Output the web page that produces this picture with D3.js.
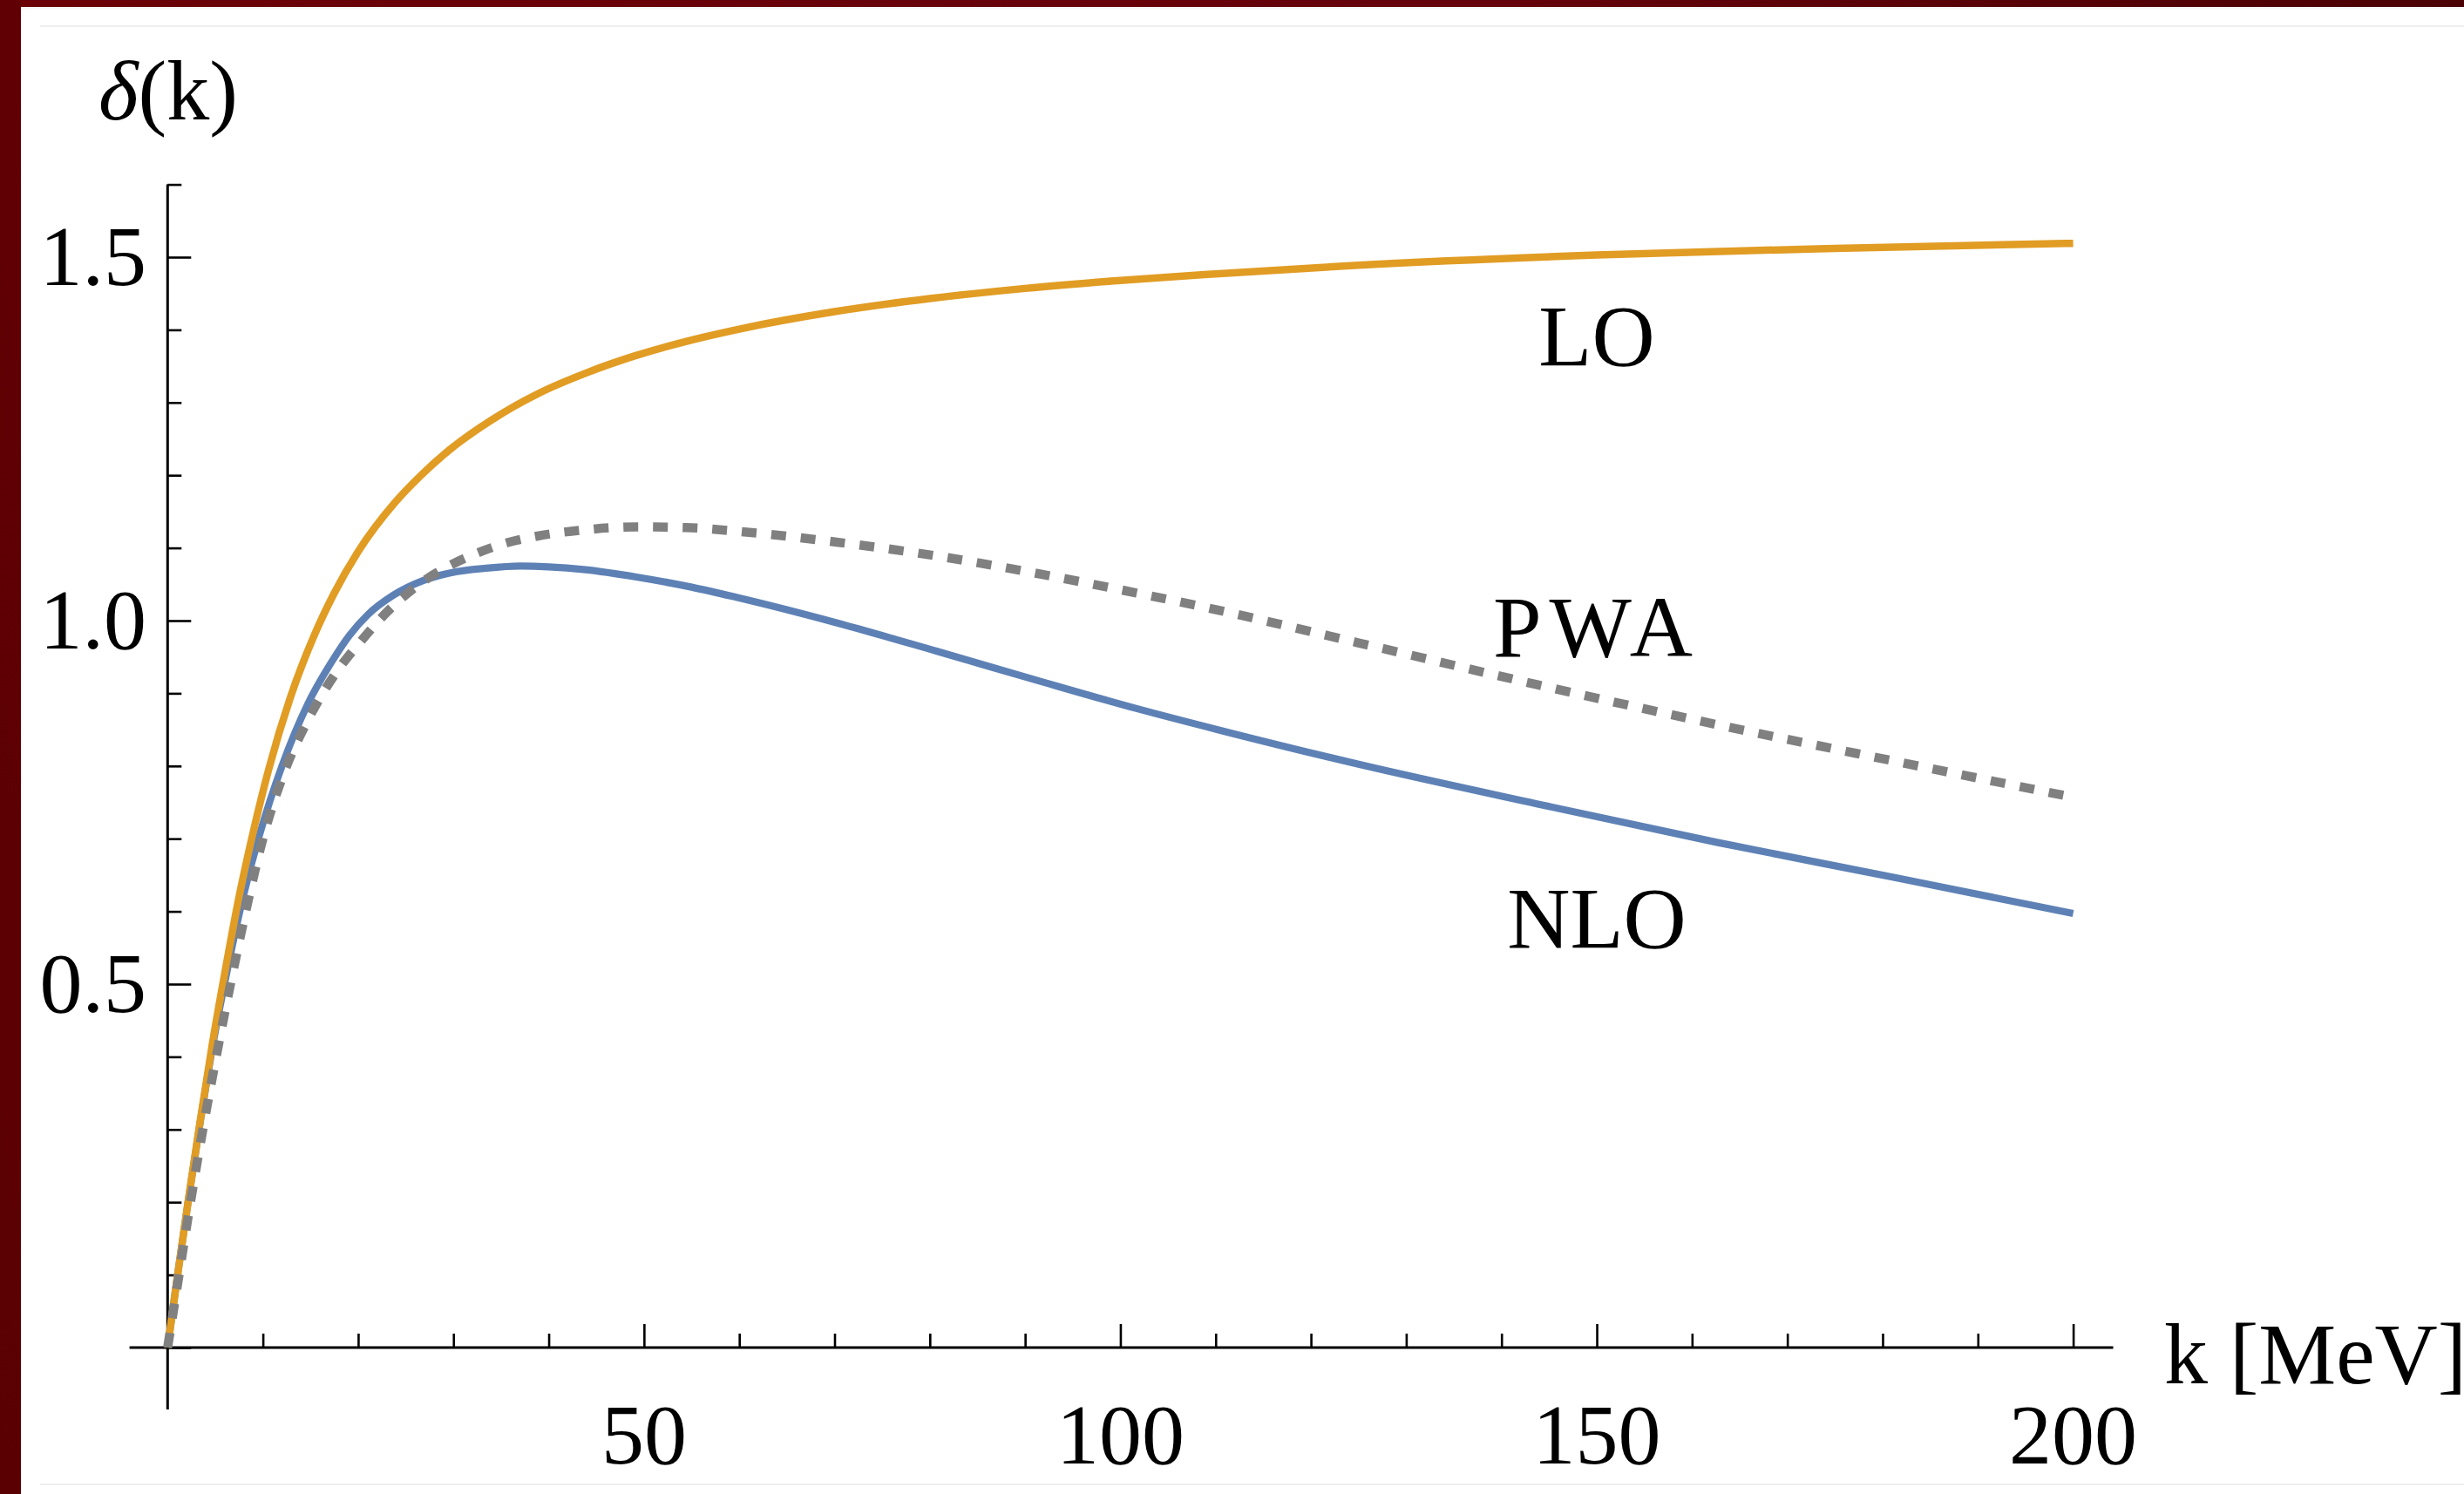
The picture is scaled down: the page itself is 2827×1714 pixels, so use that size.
<!DOCTYPE html>
<html>
<head>
<meta charset="utf-8">
<script src="https://cdn.jsdelivr.net/npm/d3@7"></script>
<style>
  html, body { margin: 0; padding: 0; background: #ffffff; }
  body { width: 2827px; height: 1714px; position: relative; overflow: hidden; }
  #topbar { position: absolute; left: 0; top: 0; width: 2827px; height: 8px;
            background: linear-gradient(to right, #6a0006, #64000a 60%, #4a0003);
            box-shadow: 0 2px 3px rgba(0,0,0,0.06); }
  #leftbar { position: absolute; left: 0; top: 0; width: 24px; height: 1714px;
             background: linear-gradient(to bottom, #610004, #5a0003); }
  #chart { position: absolute; left: 0; top: 0; }
</style>
</head>
<body>
<div id="topbar"></div>
<div id="leftbar"></div>
<svg id="chart" width="2827" height="1714"></svg>
<script>
// Phase shift delta(k) of the three curves, sampled against momentum k [MeV]
const loK     = [0, 1, 2.2, 3.4, 4.7, 6.0, 7.5, 9.0, 10.6, 12.9, 15.4, 17.5, 20.0, 23.9, 26.6, 29.5, 34.0, 39.0, 44.0, 49.0, 55.0, 60.0, 70.0, 80.0, 90.0, 100.0, 110.0, 125.0, 150.0, 175.0, 200.0];
const loDelta = [0, 0.095, 0.205, 0.31, 0.418, 0.515, 0.62, 0.71, 0.795, 0.895, 0.98, 1.038, 1.095, 1.163, 1.2, 1.234, 1.276, 1.313, 1.341, 1.364, 1.386, 1.401, 1.425, 1.443, 1.457, 1.468, 1.477, 1.489, 1.503, 1.512, 1.519];

const nloK     = [0, 1, 2.2, 3.4, 4.8, 6.2, 7.7, 9.6, 12.0, 14.7, 17.3, 19.1, 21.0, 23.7, 26.8, 29.8, 33.4, 37.0, 40.0, 43.9, 49.2, 55.0, 59.7, 70.2, 80.7, 91.2, 101.7, 110.5, 124.8, 143.7, 162.6, 181.5, 200.0];
const nloDelta = [0, 0.096, 0.205, 0.308, 0.42, 0.515, 0.607, 0.703, 0.8, 0.885, 0.945, 0.98, 1.008, 1.035, 1.055, 1.066, 1.072, 1.075, 1.074, 1.07, 1.06, 1.046, 1.032, 0.997, 0.958, 0.918, 0.879, 0.849, 0.803, 0.748, 0.695, 0.646, 0.597];

const pwaK     = [0, 1.2, 2.4, 3.7, 5.1, 6.6, 8.2, 10.0, 12.2, 14.6, 17.5, 20.5, 23.5, 26.6, 29.5, 32.7, 35.6, 38.7, 43.9, 49.2, 54.4, 59.7, 70.2, 80.7, 91.2, 101.7, 109.0, 124.8, 143.7, 162.6, 181.5, 200.0];
const pwaDelta = [0, 0.1, 0.2, 0.3, 0.4, 0.5, 0.6, 0.7, 0.79, 0.86, 0.925, 0.975, 1.018, 1.052, 1.075, 1.094, 1.107, 1.116, 1.125, 1.129, 1.128, 1.123, 1.108, 1.089, 1.065, 1.038, 1.018, 0.97, 0.912, 0.857, 0.806, 0.757];

// Axis ticks and labels
const xMajorTicks = [50, 100, 150, 200];
const xMinorTicks = [10, 20, 30, 40, 60, 70, 80, 90, 110, 120, 130, 140, 160, 170, 180, 190];
const yMajorTicks = [0, 0.5, 1.0, 1.5];
const yMinorTicks = [0.1, 0.2, 0.3, 0.4, 0.6, 0.7, 0.8, 0.9, 1.1, 1.2, 1.3, 1.4, 1.6];
const yTickLabels = ["", "0.5", "1.0", "1.5"];

// Curve labels: name and anchor position in data units
const seriesNames  = ["LO", "PWA", "NLO"];
const labelK       = [150, 150, 150];
const labelDelta   = [1.4, 1.0, 0.6];

const svg = d3.select("#chart");

// faint page rules
svg.append("line").attr("x1", 46).attr("x2", 2827).attr("y1", 30).attr("y2", 30)
  .attr("stroke", "#efefef").attr("stroke-width", 2);
svg.append("line").attr("x1", 46).attr("x2", 2827).attr("y1", 1703).attr("y2", 1703)
  .attr("stroke", "#efefef").attr("stroke-width", 2);

const x = d3.scaleLinear().domain([0, 200]).range([192.3, 2378.6]);
const y = d3.scaleLinear().domain([0, 1.5]).range([1546, 295]);

const FONT = "'Liberation Serif', 'Times New Roman', serif";
const axisColor = "#000";

// axis lines
svg.append("line")
  .attr("x1", x(-4)).attr("x2", x(204.2)).attr("y1", y(0)).attr("y2", y(0))
  .attr("stroke", axisColor).attr("stroke-width", 3);
svg.append("line")
  .attr("x1", x(0)).attr("x2", x(0)).attr("y1", y(-0.085)).attr("y2", y(1.6))
  .attr("stroke", axisColor).attr("stroke-width", 3);

// x ticks (pointing up into the plot)
const gx = svg.append("g").attr("transform", `translate(0,${y(0)})`);
gx.append("g").call(d3.axisTop(x).tickValues(xMinorTicks).tickSize(16).tickFormat(""));
gx.append("g").call(d3.axisTop(x).tickValues(xMajorTicks).tickSize(27).tickFormat(""));
gx.selectAll(".domain").remove();
gx.selectAll(".tick line").attr("stroke", axisColor).attr("stroke-width", 2.6);

// x tick labels
svg.append("g").selectAll("text").data(xMajorTicks).join("text")
  .attr("x", d => x(d)).attr("y", 1679)
  .attr("text-anchor", "middle")
  .attr("font-family", FONT).attr("font-size", 98)
  .text(d => d);

// y ticks (pointing right into the plot)
const gy = svg.append("g").attr("transform", `translate(${x(0)},0)`);
gy.append("g").call(d3.axisRight(y).tickValues(yMinorTicks).tickSize(16).tickFormat(""));
gy.append("g").call(d3.axisRight(y).tickValues(yMajorTicks).tickSize(27).tickFormat(""));
gy.selectAll(".domain").remove();
gy.selectAll(".tick line").attr("stroke", axisColor).attr("stroke-width", 2.6);

// y tick labels
svg.append("g").selectAll("text").data(yMajorTicks).join("text")
  .attr("x", 168).attr("y", d => y(d) + 32)
  .attr("text-anchor", "end")
  .attr("font-family", FONT).attr("font-size", 98)
  .text((d, i) => yTickLabels[i]);

// axis titles
const yTitle = svg.append("text")
  .attr("x", 113).attr("y", 137)
  .attr("font-family", FONT).attr("font-size", 98);
yTitle.append("tspan").attr("font-style", "italic").text("δ");
yTitle.append("tspan").text("(k)");

svg.append("text")
  .attr("x", 2483).attr("y", 1587)
  .attr("font-family", FONT).attr("font-size", 100)
  .attr("xml:space", "preserve")
  .text("k [MeV]");

// curves
const line = d3.line()
  .x(d => x(d[0]))
  .y(d => y(d[1]))
  .curve(d3.curveMonotoneX);

const zip = (ks, ds) => ks.map((k, i) => [k, ds[i]]);

const plot = svg.append("g");
plot.append("path").datum(zip(nloK, nloDelta))
  .attr("d", line).attr("fill", "none")
  .attr("stroke", "#5E81B5").attr("stroke-width", 8.2);
plot.append("path").datum(zip(loK, loDelta))
  .attr("d", line).attr("fill", "none")
  .attr("stroke", "#E19C24").attr("stroke-width", 8.5);
plot.append("path").datum(zip(pwaK, pwaDelta))
  .attr("d", line).attr("fill", "none")
  .attr("stroke", "#808080").attr("stroke-width", 10.5)
  .attr("stroke-dasharray", "17,17");

// curve labels
svg.append("g").selectAll("text").data(seriesNames).join("text")
  .attr("x", (d, i) => x(labelK[i]))
  .attr("y", (d, i) => y(labelDelta[i]) + 41)
  .attr("text-anchor", "middle")
  .attr("font-family", FONT).attr("font-size", 100)
  .attr("letter-spacing", d => d === "PWA" ? 9 : 0)
  .text(d => d);
</script>
</body>
</html>
